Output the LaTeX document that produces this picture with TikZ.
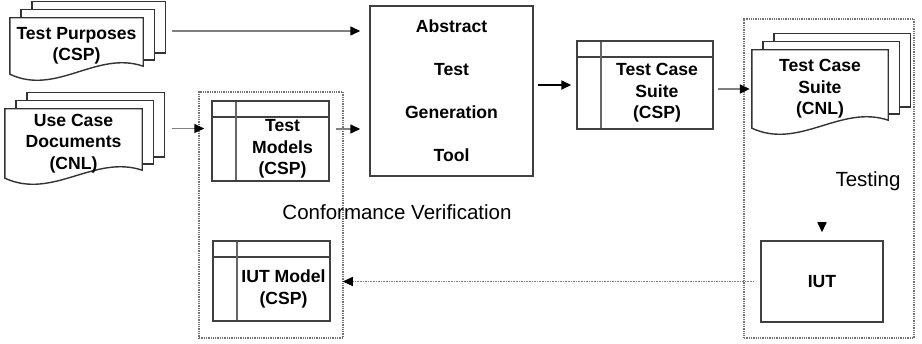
\documentclass[tikz,border=0pt]{standalone}
\usepackage{fontspec}
\setmainfont{Liberation Sans}
\usepackage{tikz}
\usetikzlibrary{arrows.meta,positioning,calc,backgrounds}

% stacked sheets behind a document node
\newcommand{\docsheets}[1]{%
  \begin{scope}[on background layer]
    \draw[sheet] ($(#1.north west)+(22,-16)$) rectangle ($(#1.south east)+(22,-21)$);
    \draw[sheet] ($(#1.north west)+(11,-8)$) rectangle ($(#1.south east)+(11,-14)$);
    \draw[sheet] (#1.north west) -- (#1.north east) -- ($(#1.south east)+(0,-8)$)
      .. controls ($(#1.south west)!0.65!(#1.south east)+(0,-24)$) and ($(#1.south west)!0.35!(#1.south east)+(0,22)$) .. (#1.south west) -- cycle;
  \end{scope}}

\begin{document}
\begin{tikzpicture}[
    x=1pt, y=-1pt,
    sheet/.style={draw=black!80, line width=1.4pt, fill=white},
    docfront/.style={rectangle, inner sep=0pt, align=center, font=\fontsize{17.6}{21.5}\selectfont\bfseries},
    classbox/.style={rectangle, draw=black!75, line width=1.5pt, fill=white, inner sep=0pt,
        path picture={
            \draw[black!75, line width=1.5pt] ([yshift=-16pt]path picture bounding box.north west) -- ([yshift=-16pt]path picture bounding box.north east);
            \draw[black!60, line width=1.5pt] ([xshift=24pt]path picture bounding box.north west) -- ([xshift=24pt]path picture bounding box.south west);
        }},
    celltext/.style={align=center, inner sep=0pt, font=\fontsize{17.6}{21.5}\selectfont\bfseries},
    toolbox/.style={rectangle, draw=black!75, line width=1.5pt, fill=white, align=center, font=\fontsize{17.6}{43}\selectfont\bfseries},
    container/.style={rectangle, draw=black!55, densely dotted, line width=1.3pt, inner sep=0pt},
    area/.style={font=\fontsize{20.5}{24}\selectfont},
    arrow/.style={-{Triangle[length=10pt,width=9pt,color=black]}, draw=black!50, line width=1.6pt},
    dotarrow/.style={arrow, densely dotted, line width=1pt}
]
    \useasboundingbox (0,0) rectangle (922,344);

    % areas
    \node[container, minimum width=144pt, minimum height=246pt] (conf) at (271,215) {};
    \node[container, minimum width=170pt, minimum height=319pt] (testing) at (829,178.5) {};
    \node[area] (conflabel) at (397,212) {Conformance Verification};
    \node[area] (testlabel) at (868,181) {Testing};

    % documents
    \node[docfront, minimum width=133pt, minimum height=56pt] (tp) at (76.5,46) {Test Purposes\\(CSP)};
    \docsheets{tp}
    \node[docfront, minimum width=137pt, minimum height=69pt] (uc) at (73.5,143.5) {Use Case\\Documents\\(CNL)};
    \docsheets{uc}
    \node[docfront, minimum width=136pt, minimum height=78pt] (cnl) at (820,89) {Test Case\\Suite\\(CNL)};
    \docsheets{cnl}

    % models
    \node[classbox, minimum width=117pt, minimum height=80pt] (tm) at (270.5,141) {};
    \node[celltext] (tmtext) at ($(tm.center)+(12,8)$) {Test\\Models\\(CSP)};
    \node[classbox, minimum width=117pt, minimum height=80pt] (iutm) at (271.5,281) {};
    \node[celltext] (iutmtext) at ($(iutm.center)+(12,8)$) {IUT Model\\(CSP)};
    \node[classbox, minimum width=136pt, minimum height=88pt] (tcs) at (645,85) {};
    \node[celltext] (tcstext) at ($(tcs.center)+(12,8)$) {Test Case\\Suite\\(CSP)};

    % tool and implementation
    \node[toolbox, minimum width=163pt, minimum height=170pt] (atg) at (451.5,91) {Abstract\\Test\\Generation\\Tool};
    \node[toolbox, minimum width=122pt, minimum height=81pt] (iut) at (822,281.5) {IUT};
    \coordinate (iuttip) at ($(iut.north)+(0,-17)$);

    \draw[arrow, shorten <=29pt, shorten >=9pt] ([yshift=15pt]tp.east) -- ([yshift=15pt]tp.east -| atg.west);
    \draw[arrow, shorten <=30pt, shorten >=7pt] ([yshift=15pt]uc.east) -- ([yshift=15pt]uc.east -| tm.west);
    \draw[arrow, shorten <=6pt, shorten >=9pt] ([yshift=12pt]tm.east) -- ([yshift=12pt]tm.east -| atg.west);
    \draw[arrow, draw=black, line width=2pt, shorten <=4pt, shorten >=5pt] (atg.east |- tcs.west) -- (tcs.west);
    \draw[arrow, shorten <=4pt, shorten >=2pt] (tcs.east |- cnl.west) -- (cnl.west);
    \draw[arrow, shorten >=8pt] (iuttip) -- (iut.north);
    \draw[dotarrow, shorten <=6pt, shorten >=12pt] (iut.west) -- (iut.west -| iutm.east);
\end{tikzpicture}
\end{document}
